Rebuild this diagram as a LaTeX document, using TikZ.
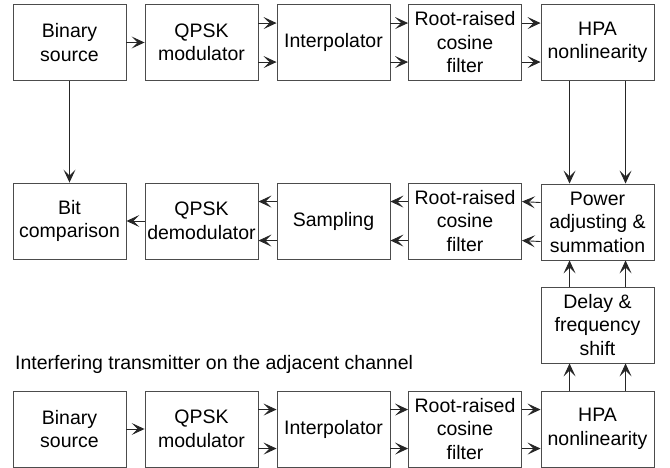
\documentclass[tikz,border=0pt]{standalone}
\usepackage{fontspec}
\setmainfont{Liberation Sans}
\usetikzlibrary{arrows.meta}
\tikzset{
  blk/.style={draw=black!70, line width=0.9pt, minimum width=113pt,
    minimum height=76pt, inner sep=0pt, align=center,
    font=\fontsize{19.5}{23.5}\selectfont},
  arr/.style={line width=0.9pt, draw=black!85,
    -{Stealth[length=13pt, width=12pt, inset=6pt]}}
}
\begin{document}
\begin{tikzpicture}
\useasboundingbox (0pt,0pt) rectangle (670pt,-468pt);

% main transmitter chain
\node[blk] (b1) at (69.5pt,-42.5pt) {Binary\\source};
\node[blk] (q1) at (201.5pt,-42.5pt) {QPSK\\modulator};
\node[blk] (i1) at (333.5pt,-42.5pt) {Interpolator};
\node[blk] (r1) at (465pt,-42.5pt) {Root-raised\\cosine\\filter};
\node[blk] (h1) at (597.5pt,-42.5pt) {HPA\\nonlinearity};

% receiver chain
\node[blk] (bc) at (69.5pt,-221pt) {Bit\\comparison};
\node[blk] (qd) at (201.5pt,-221pt) {QPSK\\demodulator};
\node[blk] (sa) at (333.5pt,-221pt) {Sampling};
\node[blk] (r2) at (465pt,-221pt) {Root-raised\\cosine\\filter};
\node[blk] (pw) at (597.5pt,-222pt) {Power\\adjusting \&\\summation};

% delay stage
\node[blk] (dl) at (597.5pt,-325pt) {Delay \&\\frequency\\shift};

% interfering transmitter chain
\node[anchor=base west, inner sep=0pt, font=\fontsize{19.5}{23}\selectfont]
  (lbl) at (15pt,-369pt) {Interfering transmitter on the adjacent channel};
\node[blk] (b3) at (69.5pt,-429pt) {Binary\\source};
\node[blk] (q3) at (201.5pt,-429pt) {QPSK\\modulator};
\node[blk] (i3) at (333.5pt,-429pt) {Interpolator};
\node[blk] (r3) at (465pt,-429pt) {Root-raised\\cosine\\filter};
\node[blk] (h3) at (597.5pt,-429pt) {HPA\\nonlinearity};

% main chain connections
\draw[arr] (b1) -- (q1);
\foreach \a/\b in {q1/i1, i1/r1, r1/h1, q3/i3, i3/r3, r3/h3}{
  \draw[arr] ([yshift=-19pt]\a.north east) -- ([yshift=-19pt]\b.north west);
  \draw[arr] ([yshift=-58pt]\a.north east) -- ([yshift=-58pt]\b.north west);
}
\draw[arr] (b3) -- (q3);

% receiver connections
\foreach \a/\b in {pw/r2, r2/sa, sa/qd}{
  \draw[arr] ([yshift=-19pt]\a.north west) -- ([yshift=-19pt]\b.north east);
  \draw[arr] ([yshift=-58pt]\a.north west) -- ([yshift=-58pt]\b.north east);
}
\draw[arr] (qd) -- (bc);
\draw[arr] (b1) -- (bc);

% vertical links into the summation block
\foreach \s in {29,85}{
  \draw[arr] ([xshift=\s pt]h1.south west) -- ([xshift=\s pt]pw.north west);
  \draw[arr] ([xshift=\s pt]dl.north west) -- ([xshift=\s pt]pw.south west);
  \draw[arr] ([xshift=\s pt]h3.north west) -- ([xshift=\s pt]dl.south west);
}
\end{tikzpicture}
\end{document}
